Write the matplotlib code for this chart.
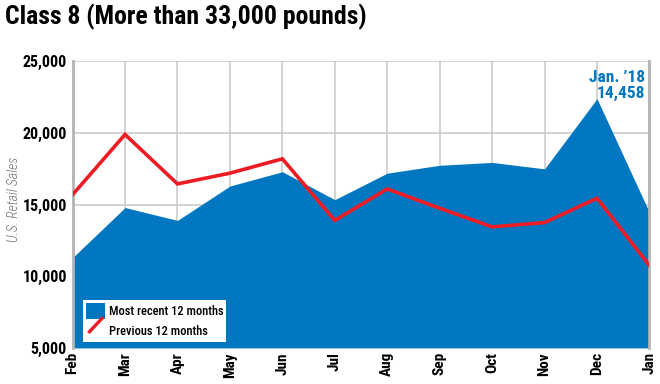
#!/usr/bin/env python3
import matplotlib
matplotlib.use("Agg")
import matplotlib.pyplot as plt
from matplotlib.legend_handler import HandlerLine2D
from matplotlib.lines import Line2D
from matplotlib.patches import Patch

# ----------------------------
# Data
# ----------------------------
months = ["Feb", "Mar", "Apr", "May", "Jun", "Jul", "Aug", "Sep", "Oct", "Nov", "Dec", "Jan"]
recent_12 = [11300, 14800, 13900, 16300, 17300, 15350, 17200, 17750, 17950, 17500, 22400, 14458]
previous_12 = [15700, 19900, 16450, 17200, 18200, 13900, 16100, 14750, 13450, 13750, 15450, 10750]
y_ticks = [5000, 10000, 15000, 20000, 25000]

title = "Class 8 (More than 33,000 pounds)"
ylabel = "U.S. Retail Sales"
callout = "Jan. \u201918\n14,458"

BLUE = "#0077c0"
RED = "#ed1c24"
GRID = "#c8c8c8"

plt.rcParams["font.family"] = ["Roboto Condensed", "Barlow Condensed", "DejaVu Sans"]


class DiagonalLine(HandlerLine2D):
    def create_artists(self, legend, orig_handle, xdescent, ydescent,
                       width, height, fontsize, trans):
        ln = Line2D([xdescent + width * 0.12, xdescent + width * 0.9],
                    [ydescent - height * 0.15, ydescent + height * 0.8],
                    color=orig_handle.get_color(), linewidth=orig_handle.get_linewidth(),
                    transform=trans, solid_capstyle="butt")
        return [ln]


fig = plt.figure(figsize=(6.6, 3.84), dpi=100)
ax = fig.add_axes([0.110, 0.094, 0.874, 0.746])

x = list(range(len(months)))
ax.fill_between(x, y_ticks[0], recent_12, color=BLUE, linewidth=0, zorder=2)
ax.plot(x, previous_12, color=RED, linewidth=2.6, zorder=3, solid_joinstyle="miter")

ax.set_xlim(0, len(months) - 1)
ax.set_ylim(y_ticks[0], y_ticks[-1])
ax.set_xticks(x)
ax.set_xticklabels(months, rotation=90, fontsize=11, fontweight="bold", va="top")
ax.set_yticks(y_ticks)
ax.set_yticklabels([f"{v:,}" for v in y_ticks], fontsize=11.5, fontweight="bold")
ax.tick_params(length=0, pad=3)
ax.tick_params(axis="y", pad=4)
ax.grid(True, color=GRID, linewidth=1.1, zorder=1)
ax.set_axisbelow(True)
for side in ["top", "bottom"]:
    ax.spines[side].set_visible(False)
for side in ["left", "right"]:
    ax.spines[side].set_color("#b4b4b4")
    ax.spines[side].set_linewidth(2)

ax.set_ylabel(ylabel, fontsize=10, style="italic", color="#707070", fontweight="light")
ax.yaxis.set_label_coords(-0.09, 0.52)

ax.annotate(callout, xy=(x[-1], y_ticks[-1]), xytext=(-3, -6), textcoords="offset points",
            ha="right", va="top", color=BLUE, fontsize=12.5, fontweight="bold",
            linespacing=1.12)

handles = [Patch(facecolor=BLUE, edgecolor="none"),
           Line2D([0], [0], color=RED, linewidth=2.4)]
leg = ax.legend(handles, ["Most recent 12 months", "Previous 12 months"],
                loc="lower left", bbox_to_anchor=(0.018, 0.021), fontsize=9,
                frameon=True, fancybox=False, framealpha=1, edgecolor="none",
                handlelength=1.5, handleheight=1.65, handletextpad=0.3,
                borderpad=0.25, labelspacing=0.25, borderaxespad=0,
                handler_map={Line2D: DiagonalLine()})
for t in leg.get_texts():
    t.set_fontweight("medium")
leg.set_zorder(5)

fig.text(0.008, 0.955, title, fontsize=18.5, fontweight="bold", ha="left", va="center")

fig.savefig("out.png", dpi=100)
